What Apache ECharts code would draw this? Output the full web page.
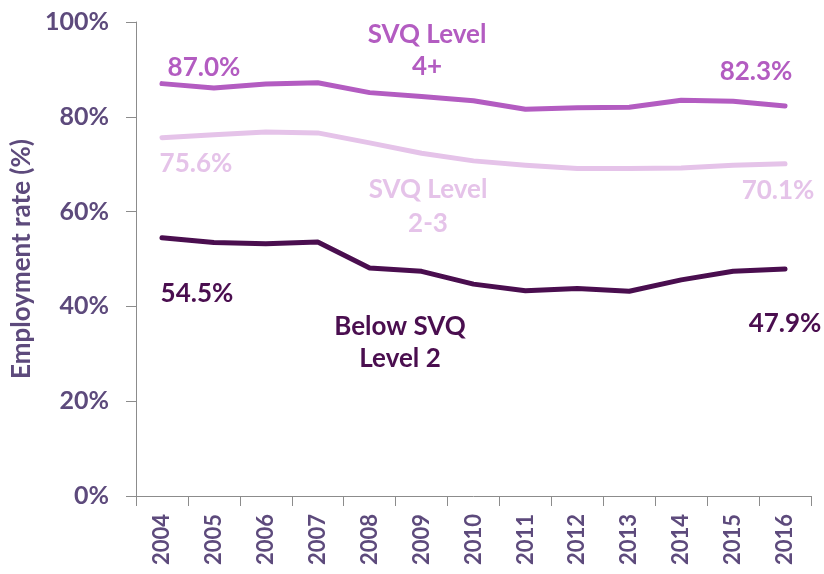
<!DOCTYPE html>
<html>
<head>
<meta charset="utf-8">
<script src="https://cdn.jsdelivr.net/npm/echarts@6/dist/echarts.min.js"></script>
<style>
  html, body { margin: 0; padding: 0; background: #fff; }
  #chart { width: 824px; height: 574px; }
</style>
</head>
<body>
<div id="chart"></div>
<script>
const years = ['2004', '2005', '2006', '2007', '2008', '2009', '2010', '2011', '2012', '2013', '2014', '2015', '2016'];
const svq4 = [87.0, 86.1, 86.9, 87.2, 85.1, 84.3, 83.4, 81.6, 81.9, 82.0, 83.5, 83.3, 82.3];
const svq23 = [75.6, 76.2, 76.8, 76.6, 74.5, 72.3, 70.7, 69.8, 69.1, 69.1, 69.2, 69.8, 70.1];
const below2 = [54.5, 53.5, 53.2, 53.6, 48.1, 47.4, 44.7, 43.3, 43.8, 43.2, 45.6, 47.4, 47.9];

const axisText = '#5D4A7C';
const font = 'Lato, "Open Sans", sans-serif';

const chart = echarts.init(document.getElementById('chart'), null, { renderer: 'canvas' });

// only first and last point get a value label
function endLabels(values, color, first, last) {
    return values.map((v, i) => {
        if (i === 0) return { value: v, label: Object.assign({ show: true, color: color }, first) };
        if (i === values.length - 1) return { value: v, label: Object.assign({ show: true, color: color }, last) };
        return v;
    });
}

function lineSeries(name, values, color, first, last) {
    return {
        name: name,
        type: 'line',
        data: endLabels(values, color, first, last),
        symbol: 'circle',
        symbolSize: 1,
        showSymbol: true,
        itemStyle: { color: color },
        lineStyle: { width: 5, color: color, cap: 'round', join: 'round' },
        label: {
            show: false,
            fontFamily: font,
            fontWeight: 'bold',
            fontSize: 26,
            formatter: p => p.value.toFixed(1) + '%'
        },
        z: 3
    };
}

function nameText(text, x, y, color, lineHeight) {
    return {
        type: 'text',
        style: { text: text, x: x, y: y, textAlign: 'center', fill: color,
            font: 'bold 26px ' + font, lineHeight: lineHeight }
    };
}

const option = {
    animation: false,
    grid: { left: 136, right: 13, top: 22, bottom: 78, containLabel: false, outerBoundsMode: 'none' },
    xAxis: {
        type: 'category',
        data: years,
        boundaryGap: true,
        axisLine: { lineStyle: { color: '#8c8c8c', width: 1 } },
        axisTick: { show: true, length: 10, lineStyle: { color: '#8c8c8c' } },
        axisLabel: {
            rotate: 90,
            margin: 18,
            color: axisText,
            fontFamily: font,
            fontWeight: 'bold',
            fontSize: 22
        }
    },
    yAxis: {
        type: 'value',
        min: 0,
        max: 100,
        interval: 20,
        name: 'Employment rate (%)',
        nameLocation: 'middle',
        nameRotate: 90,
        nameGap: 100,
        nameTextStyle: { color: axisText, fontFamily: font, fontWeight: 'bold', fontSize: 26 },
        axisLine: { show: true, lineStyle: { color: '#8c8c8c', width: 1 } },
        axisTick: { show: true, length: 10, lineStyle: { color: '#8c8c8c' } },
        splitLine: { show: false },
        axisLabel: {
            margin: 27,
            color: axisText,
            fontFamily: font,
            fontWeight: 'bold',
            fontSize: 25,
            formatter: '{value}%'
        }
    },
    series: [
        lineSeries('SVQ Level 4+', svq4, '#B35CC1',
            { position: 'top', offset: [42, 2] },
            { position: 'top', offset: [-29, -16] }),
        lineSeries('SVQ Level 2-3', svq23, '#E5C3E9',
            { position: 'bottom', offset: [34, 7] },
            { position: 'bottom', offset: [-7, 8] }),
        lineSeries('Below SVQ Level 2', below2, '#4A0E4F',
            { position: 'bottom', offset: [35, 37] },
            { position: 'bottom', offset: [0, 36] })
    ],
    graphic: [
        nameText('SVQ Level\n4+', 427, 19, '#B35CC1', 32),
        nameText('SVQ Level\n2-3', 428, 173, '#E5C3E9', 34),
        nameText('Below SVQ\nLevel 2', 400, 311, '#4A0E4F', 32)
    ]
};

chart.setOption(option);
</script>
</body>
</html>
